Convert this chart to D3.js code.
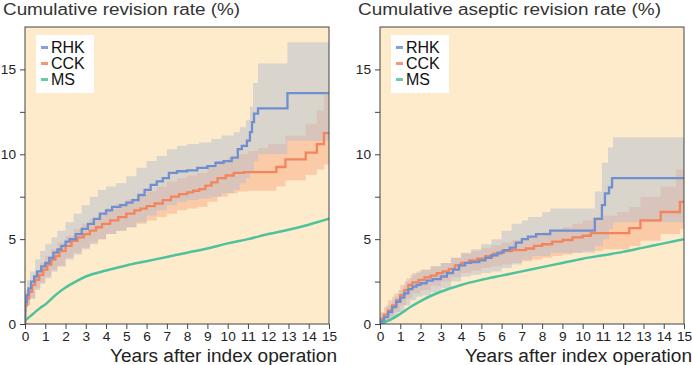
<!DOCTYPE html>
<html>
<head>
<meta charset="utf-8">
<script src="https://cdn.jsdelivr.net/npm/d3@7"></script>
<style>
  body { margin: 0; background: #fff; }
  svg { display: block; font-family: "Liberation Sans", Arial, Helvetica, sans-serif; }
</style>
</head>
<body>
<svg id="chart" width="692" height="365"></svg>
<script>
// axis ticks
const xTicks = d3.range(0, 16);
const yTicks = [0, 2.5, 5, 7.5, 10, 12.5, 15];
const yLabels = [0, 5, 10, 15];
const legendNames = ["RHK", "CCK", "MS"];

// all-cause revision, step points [year, %]
const allRhk = [[0,0],[0.01,1.3],[0.08,1.7],[0.17,2.1],[0.3,2.5],[0.45,2.8],[0.6,3.1],[0.8,3.4],[1.0,3.6],[1.2,3.9],[1.4,4.2],[1.6,4.4],[1.8,4.6],[2.0,4.85],[2.2,5.0],[2.5,5.3],[2.8,5.6],[3.1,5.9],[3.4,6.2],[3.7,6.5],[4.0,6.7],[4.3,6.9],[4.7,7.0],[5.0,7.15],[5.3,7.3],[5.6,7.6],[5.9,7.9],[6.2,8.2],[6.5,8.4],[6.8,8.6],[7.1,8.9],[7.5,9.0],[8.0,9.05],[8.5,9.2],[9.0,9.3],[9.4,9.5],[9.8,9.6],[10.2,9.8],[10.5,10.3],[10.7,10.5],[10.95,10.8],[11.1,11.3],[11.2,11.9],[11.3,12.4],[11.5,12.7],[12.95,13.6],[15,13.6]];
const allRhkHi = [[0,0],[0.01,2.0],[0.1,2.6],[0.25,3.1],[0.5,3.8],[0.75,4.3],[1.0,4.7],[1.3,5.1],[1.6,5.5],[2.0,6.0],[2.4,6.5],[2.8,7.0],[3.2,7.5],[3.6,7.9],[4.0,8.1],[4.5,8.3],[5.0,8.7],[5.5,9.2],[6.0,9.6],[6.5,9.9],[7.0,10.3],[7.5,10.5],[8.0,10.6],[8.6,10.7],[9.2,10.9],[9.7,11.1],[10.3,11.3],[10.6,11.6],[10.9,12.0],[11.1,12.8],[11.25,14.2],[11.5,15.35],[12.95,16.6],[15,16.6]];
const allRhkLo = [[0,0],[0.01,0.8],[0.1,1.1],[0.25,1.5],[0.5,2.0],[0.75,2.4],[1.0,2.7],[1.3,3.1],[1.6,3.4],[2.0,3.8],[2.4,4.1],[2.8,4.4],[3.2,4.7],[3.6,5.0],[4.0,5.3],[4.5,5.5],[5.0,5.7],[5.5,6.0],[6.0,6.4],[6.5,6.7],[7.0,7.0],[7.5,7.2],[8.0,7.3],[8.6,7.4],[9.2,7.5],[9.7,7.7],[10.3,7.9],[10.6,8.3],[10.9,8.6],[11.1,9.0],[11.3,9.6],[11.5,10.0],[12.95,10.8],[15,10.8]];
const allCck = [[0,0],[0.01,1.1],[0.1,1.5],[0.2,1.9],[0.35,2.3],[0.5,2.6],[0.7,2.9],[0.9,3.2],[1.1,3.5],[1.3,3.8],[1.5,4.0],[1.7,4.3],[2.0,4.6],[2.3,4.9],[2.6,5.1],[2.9,5.3],[3.2,5.5],[3.5,5.7],[3.8,5.9],[4.2,6.1],[4.6,6.3],[5.0,6.5],[5.4,6.7],[5.7,6.8],[6.0,6.95],[6.4,7.1],[6.8,7.3],[7.2,7.5],[7.6,7.65],[8.0,7.75],[8.3,7.85],[8.6,7.95],[8.9,8.15],[9.2,8.35],[9.5,8.6],[9.9,8.75],[10.3,8.9],[10.8,8.95],[12.4,9.25],[12.85,9.7],[13.85,10.1],[14.4,10.6],[14.75,11.25],[15,11.25]];
const allCckHi = [[0,0],[0.01,1.5],[0.1,1.9],[0.25,2.4],[0.5,3.1],[0.75,3.6],[1.0,4.0],[1.3,4.4],[1.6,4.8],[2.0,5.2],[2.4,5.6],[2.8,5.9],[3.2,6.2],[3.6,6.5],[4.0,6.8],[4.5,7.1],[5.0,7.35],[5.5,7.6],[6.0,7.8],[6.5,8.1],[7.0,8.4],[7.5,8.6],[8.0,8.75],[8.5,8.9],[9.0,9.2],[9.5,9.6],[10.0,9.8],[10.5,10.0],[11.0,10.2],[11.5,10.35],[12.0,10.6],[12.85,11.1],[13.85,11.8],[14.4,12.6],[14.75,13.5],[15,13.5]];
const allCckLo = [[0,0],[0.01,0.7],[0.1,1.1],[0.25,1.5],[0.5,2.1],[0.75,2.4],[1.0,2.8],[1.3,3.2],[1.6,3.4],[2.0,3.9],[2.4,4.2],[2.8,4.5],[3.2,4.8],[3.6,5.0],[4.0,5.3],[4.5,5.5],[5.0,5.7],[5.5,5.9],[6.0,6.1],[6.5,6.3],[7.0,6.5],[7.5,6.7],[8.0,6.8],[8.5,6.9],[9.0,7.2],[9.5,7.5],[10.0,7.7],[10.5,7.8],[11.0,7.85],[12.4,8.1],[12.85,8.45],[13.85,8.8],[14.4,9.1],[14.75,9.4],[15,9.4]];
const allMsYears = [0, 0.25, 0.5, 0.75, 1, 1.5, 2, 2.5, 3, 4, 5, 6, 7, 8, 9, 10, 11, 12, 13, 14, 15];
const allMsVals = [0.2, 0.45, 0.7, 0.95, 1.15, 1.7, 2.15, 2.5, 2.8, 3.15, 3.45, 3.7, 3.95, 4.2, 4.45, 4.75, 5.0, 5.3, 5.55, 5.85, 6.2];

// aseptic revision
const asepRhk = [[0,0],[0.05,0.2],[0.2,0.4],[0.4,0.7],[0.6,1.0],[0.8,1.3],[1.0,1.55],[1.2,1.8],[1.4,2.05],[1.6,2.2],[1.8,2.3],[2.0,2.4],[2.3,2.55],[2.6,2.65],[3.0,2.8],[3.3,3.0],[3.6,3.2],[3.9,3.45],[4.2,3.6],[4.5,3.65],[4.9,3.75],[5.2,3.9],[5.5,4.05],[5.8,4.2],[6.1,4.35],[6.4,4.5],[6.7,4.8],[7.0,5.0],[7.3,5.15],[7.7,5.3],[8.4,5.5],[10.6,6.2],[10.95,7.0],[11.1,7.7],[11.3,8.05],[11.45,8.6],[15,8.6]];
const asepRhkHi = [[0,0],[0.05,0.6],[0.3,1.1],[0.6,1.6],[0.9,2.0],[1.2,2.5],[1.5,2.9],[1.8,3.1],[2.1,3.2],[2.5,3.4],[3.0,3.6],[3.5,3.9],[4.0,4.2],[4.5,4.4],[5.0,4.7],[5.5,5.0],[6.0,5.5],[6.5,5.9],[7.0,6.1],[7.3,6.3],[8.0,6.6],[8.4,6.8],[10.6,7.8],[10.95,9.5],[11.25,10.4],[11.5,11.0],[15,11.0]];
const asepRhkLo = [[0,0],[0.3,0.15],[0.6,0.4],[0.9,0.7],[1.2,1.1],[1.5,1.4],[1.8,1.6],[2.1,1.7],[2.5,1.85],[3.0,2.1],[3.5,2.5],[4.0,2.8],[4.5,2.9],[5.0,3.0],[5.5,3.1],[6.0,3.3],[6.5,3.5],[7.0,3.8],[7.5,4.0],[8.4,4.2],[10.6,4.6],[11.0,5.0],[11.3,5.6],[11.5,6.0],[15,6.0]];
const asepCck = [[0,0],[0.02,0.3],[0.2,0.55],[0.4,0.8],[0.6,1.1],[0.8,1.4],[1.0,1.7],[1.2,2.0],[1.4,2.3],[1.6,2.45],[1.9,2.6],[2.2,2.75],[2.5,2.85],[2.8,3.0],[3.1,3.1],[3.4,3.25],[3.7,3.45],[4.0,3.6],[4.4,3.75],[4.8,3.85],[5.2,4.0],[5.6,4.15],[6.0,4.3],[6.5,4.35],[7.2,4.45],[7.6,4.6],[8.0,4.7],[8.5,4.85],[9.0,4.95],[9.5,5.1],[10.0,5.2],[10.4,5.35],[12.3,5.65],[12.85,6.1],[13.85,6.6],[14.8,7.2],[15,7.2]];
const asepCckHi = [[0,0],[0.02,0.7],[0.2,1.0],[0.4,1.4],[0.7,1.8],[1.0,2.3],[1.3,2.7],[1.6,3.0],[2.0,3.2],[2.5,3.4],[3.0,3.6],[3.5,3.9],[4.0,4.15],[4.5,4.3],[5.0,4.5],[5.5,4.65],[6.0,4.8],[6.5,4.95],[7.0,5.1],[7.5,5.25],[8.0,5.4],[8.5,5.55],[9.0,5.7],[9.5,5.9],[10.0,6.1],[10.5,6.3],[11.0,6.4],[11.7,6.6],[12.3,6.9],[12.85,7.5],[13.85,8.1],[14.6,9.1],[15,9.1]];
const asepCckLo = [[0,0],[0.2,0.2],[0.4,0.4],[0.7,0.7],[1.0,1.1],[1.3,1.5],[1.6,1.8],[2.0,2.0],[2.5,2.25],[3.0,2.5],[3.5,2.75],[4.0,3.0],[4.5,3.15],[5.0,3.3],[5.5,3.4],[6.0,3.5],[6.5,3.6],[7.0,3.7],[7.5,3.8],[8.0,3.9],[8.5,4.0],[9.0,4.1],[9.5,4.2],[10.0,4.3],[11.0,4.4],[12.3,4.6],[12.85,4.9],[13.85,5.3],[14.8,5.6],[15,5.6]];
const asepMsYears = [0, 0.5, 1, 1.5, 2, 2.5, 3, 4, 5, 6, 7, 8, 9, 10, 11, 12, 13, 14, 15];
const asepMsVals = [0, 0.25, 0.6, 1.0, 1.35, 1.65, 1.9, 2.3, 2.6, 2.85, 3.1, 3.35, 3.6, 3.85, 4.05, 4.25, 4.5, 4.75, 5.0];

const colors = {
    bg: "#fdebcc",
    rhk: "#6f8fd1",
    rhkBand: "rgba(181,189,204,0.5)",
    cck: "#f4845c",
    cckBand: "rgba(250,172,132,0.5)",
    ms: "#4ec29b",
    axis: "#444"
};

const panels = [
    {left: 25, title: "Cumulative revision rate (%)", titleX: 3, titleW: 237,
     rhk: allRhk, rhkLo: allRhkLo, rhkHi: allRhkHi,
     cck: allCck, cckLo: allCckLo, cckHi: allCckHi,
     ms: d3.zip(allMsYears, allMsVals)},
    {left: 380, title: "Cumulative aseptic revision rate (%)", titleX: 358, titleW: 303,
     rhk: asepRhk, rhkLo: asepRhkLo, rhkHi: asepRhkHi,
     cck: asepCck, cckLo: asepCckLo, cckHi: asepCckHi,
     ms: d3.zip(asepMsYears, asepMsVals)}
];

const plotW = 304, plotTop = 27, plotBottom = 324;
const svg = d3.select("#chart");

// value of a step function at time t
function stepAt(pts, t) {
    let v = 0;
    for (const p of pts) { if (p[0] <= t) v = p[1]; else break; }
    return v;
}

// join lower/upper step curves onto one time grid
function bandOf(lo, hi) {
    const ts = Array.from(new Set(lo.map(d => d[0]).concat(hi.map(d => d[0])))).sort((a, b) => a - b);
    return ts.map(t => ({t: t, lo: stepAt(lo, t), hi: stepAt(hi, t)}));
}

function drawPanel(p, i) {
    const x = d3.scaleLinear().domain([0, 15]).range([p.left, p.left + plotW]);
    const y = d3.scaleLinear().domain([0, 17.5]).range([plotBottom, plotTop]);
    const g = svg.append("g");
    const h = plotBottom - plotTop;

    g.append("clipPath").attr("id", "clip" + i)
        .append("rect").attr("x", x(0)).attr("y", plotTop).attr("width", plotW).attr("height", h);

    g.append("rect")
        .attr("x", x(0)).attr("y", plotTop).attr("width", plotW).attr("height", h)
        .attr("fill", colors.bg);

    const plot = g.append("g").attr("clip-path", `url(#clip${i})`);

    const area = d3.area().curve(d3.curveStepAfter)
        .x(d => x(d.t)).y0(d => y(d.lo)).y1(d => y(d.hi));
    const step = d3.line().curve(d3.curveStepAfter).x(d => x(d[0])).y(d => y(d[1]));

    plot.append("path").attr("d", area(bandOf(p.cckLo, p.cckHi))).attr("fill", colors.cckBand);
    plot.append("path").attr("d", area(bandOf(p.rhkLo, p.rhkHi))).attr("fill", colors.rhkBand);

    plot.append("path")
        .attr("d", d3.line().curve(d3.curveMonotoneX).x(d => x(d[0])).y(d => y(d[1]))(p.ms))
        .attr("fill", "none").attr("stroke", colors.ms).attr("stroke-width", 2.5);
    plot.append("path").attr("d", step(p.cck))
        .attr("fill", "none").attr("stroke", colors.cck).attr("stroke-width", 2.3);
    plot.append("path").attr("d", step(p.rhk))
        .attr("fill", "none").attr("stroke", colors.rhk).attr("stroke-width", 2.3);

    // frame
    g.append("rect")
        .attr("x", x(0)).attr("y", plotTop).attr("width", plotW).attr("height", h)
        .attr("fill", "none").attr("stroke", colors.axis).attr("stroke-width", 1);

    const xAxis = g.append("g").attr("transform", `translate(0,${plotBottom})`)
        .call(d3.axisBottom(x).tickValues(xTicks).tickSize(5).tickPadding(3));
    const yAxis = g.append("g").attr("transform", `translate(${x(0)},0)`)
        .call(d3.axisLeft(y).tickValues(yTicks).tickSize(5).tickPadding(4)
            .tickFormat(d => yLabels.includes(d) ? d : ""));
    [xAxis, yAxis].forEach(a => {
        a.select(".domain").remove();
        a.selectAll("line").attr("stroke", colors.axis);
        // digits in the figure are a bit wider than plain Arial
        a.selectAll("text").attr("font-size", 13).attr("fill", "#222")
            .attr("font-family", "'Liberation Sans', Arial, sans-serif")
            .attr("textLength", function() { const n = this.textContent.length; return n ? n * 7.6 : null; })
            .attr("lengthAdjust", "spacingAndGlyphs");
    });

    // titles
    g.append("text").attr("x", p.titleX).attr("y", 15)
        .attr("font-size", 16).attr("fill", "#333")
        .attr("textLength", p.titleW).attr("lengthAdjust", "spacingAndGlyphs")
        .text(p.title);
    g.append("text").attr("x", x(15) + 8).attr("y", 362)
        .attr("text-anchor", "end").attr("font-size", 18).attr("fill", "#222")
        .attr("textLength", 227).attr("lengthAdjust", "spacingAndGlyphs")
        .text("Years after index operation");

    // legend
    const lg = g.append("g").attr("transform", `translate(${x(0) + 11},35)`);
    lg.append("rect").attr("width", 58).attr("height", 58).attr("fill", "#fff");
    const legendColors = [colors.rhk, colors.cck, colors.ms];
    legendNames.forEach((name, k) => {
        lg.append("rect").attr("x", 5).attr("y", 11 + k * 16).attr("width", 7).attr("height", 3)
            .attr("fill", legendColors[k]).attr("opacity", 0.85);
        lg.append("text").attr("x", 15).attr("y", 18 + k * 16)
            .attr("font-size", 16).attr("fill", "#111").text(name);
    });
}

panels.forEach(drawPanel);
</script>
</body>
</html>
